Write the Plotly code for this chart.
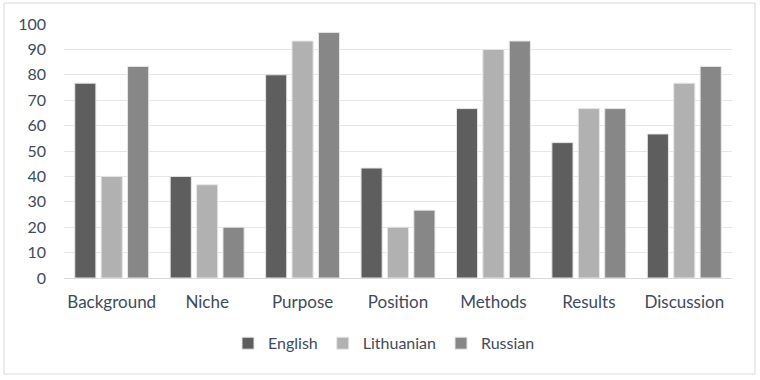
import plotly.graph_objects as go

categories = ["Background", "Niche", "Purpose", "Position", "Methods", "Results", "Discussion"]
english = [76.7, 40, 80, 43.3, 66.7, 53.3, 56.7]
lithuanian = [40, 36.7, 93.3, 20, 90, 66.7, 76.7]
russian = [83.3, 20, 96.7, 26.7, 93.3, 66.7, 83.3]
tick_vals = [0, 10, 20, 30, 40, 50, 60, 70, 80, 90, 100]

text_color = "#404b5c"
fig = go.Figure()
for name, vals, col in [("English", english, "#5e5e5e"),
                        ("Lithuanian", lithuanian, "#b1b1b1"),
                        ("Russian", russian, "#878787")]:
    fig.add_trace(go.Bar(x=categories, y=vals, name=name,
                         marker=dict(color=col, line=dict(color="#e6e6e6", width=1))))

fig.update_layout(
    width=760, height=380,
    margin=dict(l=64, r=28, t=24, b=102),
    paper_bgcolor="white", plot_bgcolor="white",
    barmode="group", bargap=0.17, bargroupgap=0.2,
    font=dict(family="Lato", size=16, color=text_color),
    xaxis=dict(showgrid=False, showline=False, ticks="", tickfont=dict(size=17),
               ticklabelstandoff=12),
    yaxis=dict(range=[0, 100], tickvals=tick_vals, showgrid=True, gridcolor="#e3e6ea",
               gridwidth=1, zeroline=True, zerolinecolor="#d9d9d9", zerolinewidth=1,
               showline=False, ticks="", tickfont=dict(size=16), ticklabelstandoff=17),
    legend=dict(orientation="h", x=(228 - 64) / 668, xanchor="left", y=-0.19, yanchor="top",
                font=dict(size=16), itemwidth=30, traceorder="normal", tracegroupgap=0),
    showlegend=True,
    shapes=[dict(type="rect", xref="paper", yref="paper",
                 x0=-60/668, x1=1 + 23/668, y0=-96/254, y1=1 + 21/254,
                 line=dict(color="#d9d9d9", width=1), fillcolor="rgba(0,0,0,0)", layer="below")],
)
fig.write_html("out.html", config={"displayModeBar": False},
               post_script="document.body.style.margin='0';")
